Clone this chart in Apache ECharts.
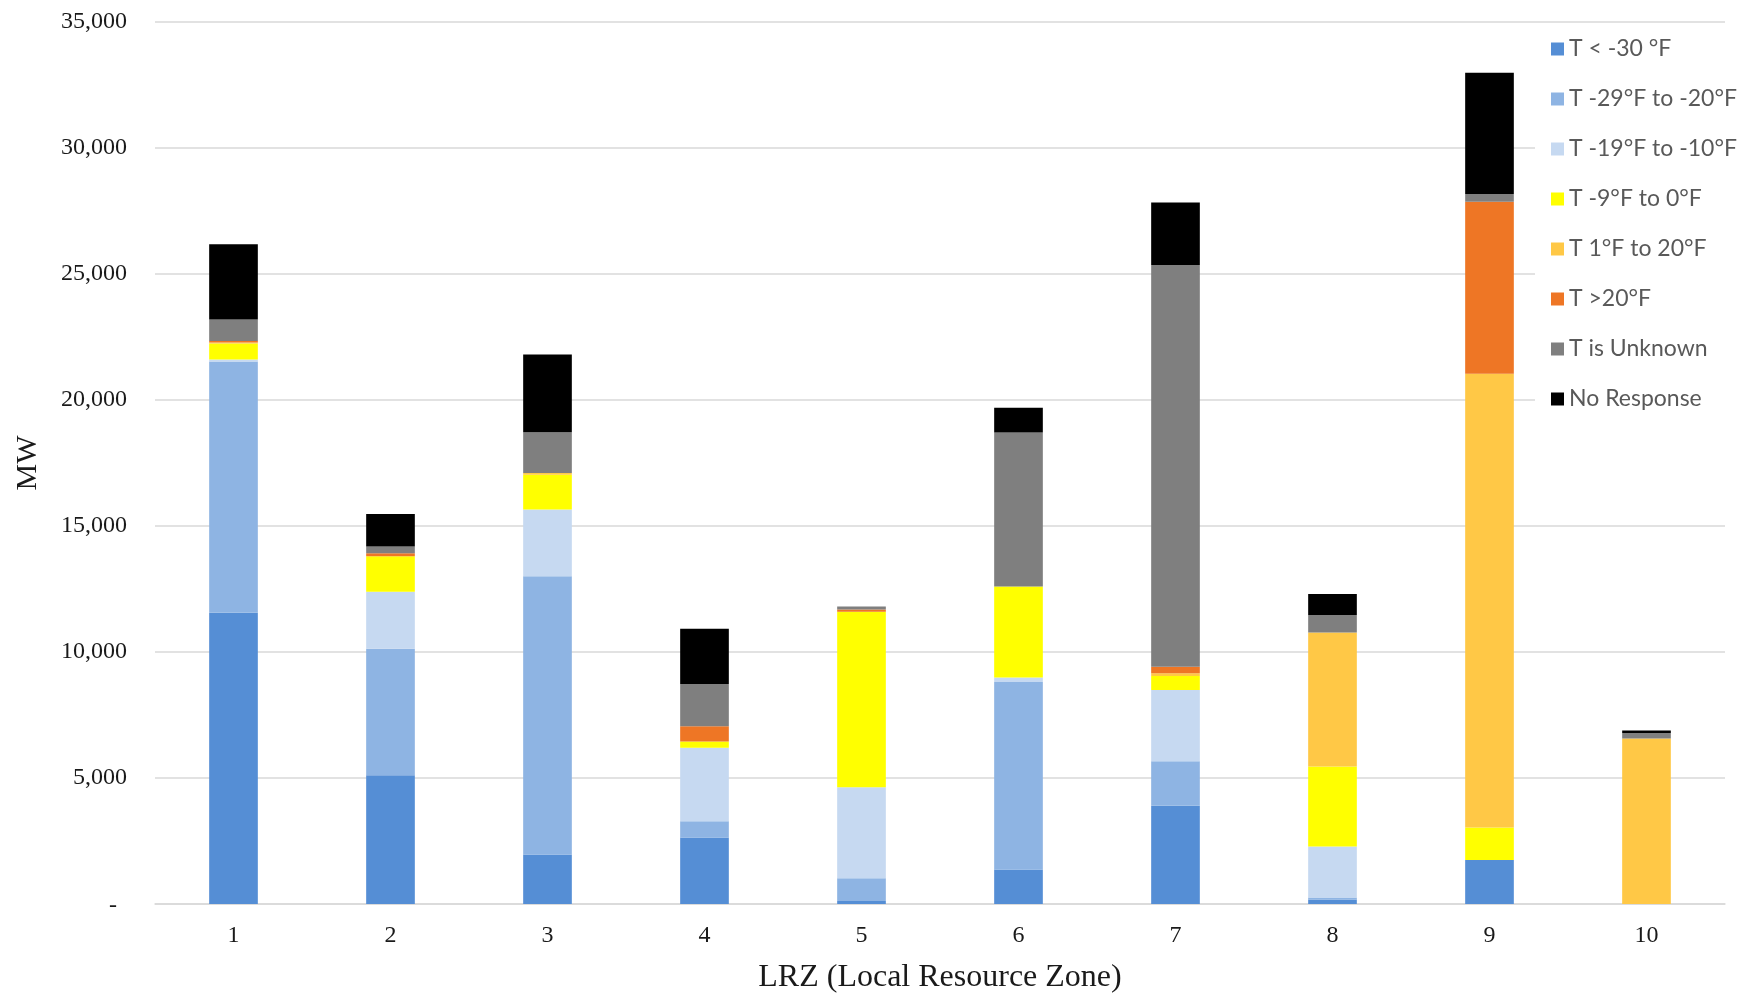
<!DOCTYPE html>
<html>
<head>
<meta charset="utf-8">
<title>LRZ MW by Temperature Rating</title>
<script src="https://cdn.jsdelivr.net/npm/echarts@6/dist/echarts.min.js"></script>
<style>
  html, body { margin: 0; padding: 0; background: #ffffff; }
  #chart { width: 1758px; height: 999px; }
</style>
</head>
<body>
<div id="chart"></div>
<script>
// Local Resource Zones on the x axis
const categories = ['1', '2', '3', '4', '5', '6', '7', '8', '9', '10'];

// MW per temperature band, one value per zone
const tBelow30   = [11560, 5110, 1960, 2640, 120, 1370, 3900, 180, 1750, 0];
const t29to20    = [9970, 5020, 11050, 640, 900, 7440, 1765, 80, 0, 0];
const t19to10    = [80, 2260, 2645, 2920, 3610, 175, 2830, 2020, 0, 0];
const t9to0      = [630, 1410, 1375, 250, 6970, 3610, 550, 3180, 1290, 0];
const t1to20     = [40, 0, 70, 0, 0, 0, 110, 5310, 18000, 6570];
const tAbove20   = [60, 120, 0, 600, 90, 0, 260, 0, 6830, 0];
const tUnknown   = [850, 265, 1620, 1680, 120, 6120, 15940, 700, 300, 220];
const noResponse = [2990, 1290, 3085, 2190, 0, 980, 2480, 830, 4820, 90];

const seriesNames = ['T < -30 °F', 'T -29°F to -20°F', 'T -19°F to -10°F', 'T -9°F to 0°F',
                     'T 1°F to 20°F', 'T >20°F', 'T is Unknown', 'No Response'];
const seriesData  = [tBelow30, t29to20, t19to10, t9to0, t1to20, tAbove20, tUnknown, noResponse];
const seriesColors = ['#558ed5', '#8eb4e3', '#c6d9f1', '#ffff00', '#ffc846', '#ee7625', '#7f7f7f', '#000000'];

// y axis range and tick step
const yMin = 0, yMax = 35000, yStep = 5000;

const serif = 'Liberation Serif';
const chart = echarts.init(document.getElementById('chart'), null, { renderer: 'canvas' });

chart.setOption({
  backgroundColor: '#ffffff',
  animation: false,
  grid: { left: 155, right: 33, top: 22, bottom: 91, containLabel: false },
  legend: {
    orient: 'vertical',
    left: 1535,
    top: 27,
    padding: [9, 8, 15, 16],
    backgroundColor: '#ffffff',
    itemWidth: 13,
    itemHeight: 13,
    itemGap: 24,
    icon: 'rect',
    textStyle: { fontFamily: 'Lato', fontSize: 23, color: '#595959', lineHeight: 26 },
    data: seriesNames
  },
  xAxis: {
    type: 'category',
    data: categories,
    name: 'LRZ (Local Resource Zone)',
    nameLocation: 'middle',
    nameGap: 58,
    nameTextStyle: { fontFamily: serif, fontSize: 32, color: '#1a1a1a' },
    axisLine: { show: true, lineStyle: { color: '#d9d9d9', width: 1.5 } },
    axisTick: { show: false },
    axisLabel: { fontFamily: serif, fontSize: 24, color: '#1a1a1a', margin: 20 }
  },
  yAxis: {
    type: 'value',
    min: yMin,
    max: yMax,
    interval: yStep,
    name: 'MW',
    nameLocation: 'middle',
    nameRotate: 90,
    nameGap: 112,
    nameTextStyle: { fontFamily: serif, fontSize: 30, color: '#1a1a1a' },
    axisLine: { show: false },
    axisTick: { show: false },
    splitLine: { lineStyle: { color: '#d9d9d9', width: 1.5 } },
    axisLabel: {
      fontFamily: serif, fontSize: 24, color: '#1a1a1a', margin: 28,
      formatter: v => v === 0 ? '{z|-}' : v.toLocaleString('en-US'),
      rich: { z: { fontFamily: serif, fontSize: 24, color: '#1a1a1a', padding: [4, 10, 0, 0] } }
    }
  },
  series: seriesNames.map((name, i) => ({
    name: name,
    type: 'bar',
    stack: 'total',
    barWidth: '31%',
    data: seriesData[i],
    itemStyle: { color: seriesColors[i] },
    emphasis: { disabled: true }
  }))
});
</script>
</body>
</html>
